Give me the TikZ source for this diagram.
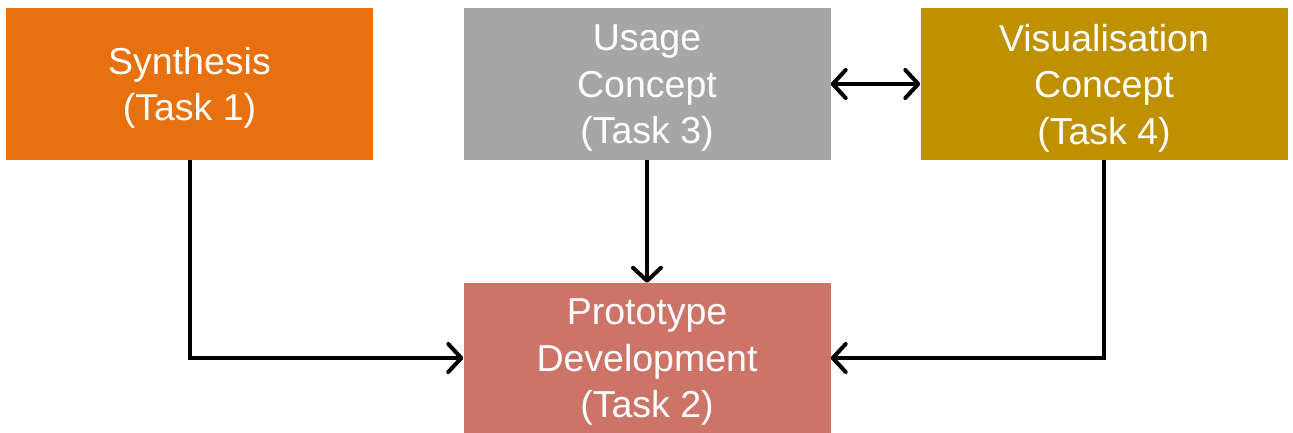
\documentclass[tikz,border=0pt]{standalone}
\usepackage{fontspec}
\setmainfont{Liberation Sans}
\usetikzlibrary{arrows.meta}
\definecolor{synC}{HTML}{E8710F}
\definecolor{useC}{HTML}{A6A6A6}
\definecolor{visC}{HTML}{BF9000}
\definecolor{proC}{HTML}{CD7469}
\tikzset{
  box/.style={draw=none, minimum width=367pt, minimum height=152pt, inner sep=0pt},
  lbl/.style={inner sep=0pt, text=white, align=center, font=\fontsize{37.5}{46.5}\selectfont},
  tip/.tip={Straight Barb[length=13pt, width=28pt, line width=4pt, line cap=round, line join=round]},
  conn/.style={line width=4pt, -tip},
  dconn/.style={line width=4pt, tip-tip}
}
\begin{document}
\begin{tikzpicture}[x=1pt,y=-1pt]
\useasboundingbox (0,0) rectangle (1293,432);
\node[box, fill=synC] (syn) at (189.5,84) {};
\node[box, fill=useC] (use) at (647,84) {};
\node[box, fill=visC] (vis) at (1104,84) {};
\node[box, fill=proC, minimum height=150pt] (pro) at (647,358) {};
\node[lbl] (synT) at ([yshift=-4pt]syn.center) {Synthesis\\(Task 1)};
\node[lbl] (useT) at ([yshift=-4pt]use.center) {Usage\\Concept\\(Task 3)};
\node[lbl] (visT) at ([yshift=-4pt]vis.center) {Visualisation\\Concept\\(Task 4)};
\node[lbl] (proT) at ([yshift=-4pt]pro.center) {Prototype\\Development\\(Task 2)};
\draw[conn] (syn.south) |- (pro.west);
\draw[conn] (use.south) -- (pro.north);
\draw[conn] (vis.south) |- (pro.east);
\draw[dconn] (use.east) -- (vis.west);
\end{tikzpicture}
\end{document}
